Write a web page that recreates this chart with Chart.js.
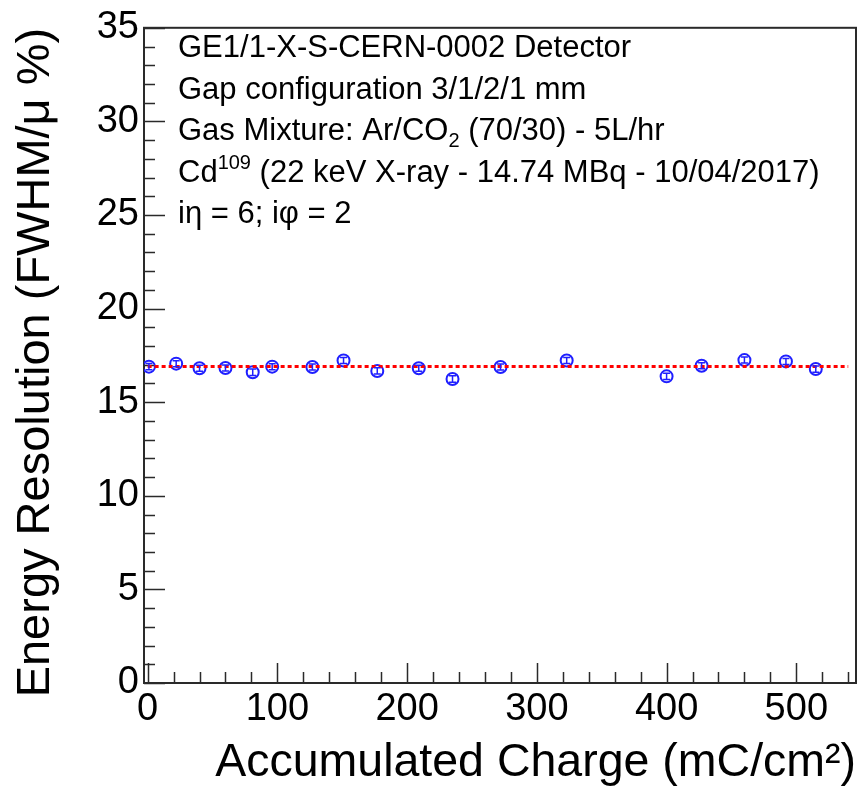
<!DOCTYPE html>
<html>
<head>
<meta charset="utf-8">
<script src="https://cdn.jsdelivr.net/npm/chart.js@4/dist/chart.umd.min.js"></script>
<style>
  html, body { margin: 0; padding: 0; background: #ffffff; }
  #wrap { width: 864px; height: 791px; }
</style>
</head>
<body>
<div id="wrap"><canvas id="c" width="864" height="791"></canvas></div>
<script>
// Accumulated charge (mC/cm^2) for each measurement
const charge = [1, 22, 40, 60, 81, 96, 127, 151, 177, 209, 235, 272, 323, 400, 427, 460, 492, 515];
// Energy resolution (FWHM/mu, %) and its uncertainty
const resolution = [16.90, 17.06, 16.81, 16.83, 16.60, 16.90, 16.88, 17.23, 16.67, 16.81, 16.24, 16.88, 17.23, 16.38, 16.95, 17.25, 17.18, 16.77];
const resolutionErr = [0.17, 0.16, 0.16, 0.16, 0.17, 0.16, 0.16, 0.16, 0.17, 0.16, 0.17, 0.16, 0.16, 0.17, 0.16, 0.16, 0.16, 0.17];
// Constant fit (pol0) over the charge range
const fitValue = 16.91;
const fitRange = [0, 540];
// Axis tick labels
const xTickValues = [0, 100, 200, 300, 400, 500];
const yTickValues = [0, 5, 10, 15, 20, 25, 30, 35];

// Info box lines; "sup"/"sub" segments are drawn raised/lowered
const infoLines = [
  [{ t: 'GE1/1-X-S-CERN-0002 Detector' }],
  [{ t: 'Gap configuration 3/1/2/1 mm' }],
  [{ t: 'Gas Mixture: Ar/CO' }, { t: '2', sub: true }, { t: ' (70/30) - 5L/hr' }],
  [{ t: 'Cd' }, { t: '109', sup: true }, { t: ' (22 keV X-ray - 14.74 MBq - 10/04/2017)' }],
  [{ t: 'i\u03b7 = 6; i\u03c6 = 2' }]
];

const FONT = '"Liberation Sans", Arial, Helvetica, sans-serif';
const BLUE = '#1f1fff';

// Frame with inward major/minor ticks on the left and bottom axes
const framePlugin = {
  id: 'frame',
  beforeDatasetsDraw(chart) {
    const { ctx, chartArea: a, scales: { x, y } } = chart;
    ctx.save();
    ctx.strokeStyle = '#2a2a2a';
    ctx.lineWidth = 1.5;
    ctx.beginPath();
    for (let v = 0; v <= 35; v++) {
      const py = Math.round(y.getPixelForValue(v)) + 0.5;
      const len = v % 5 === 0 ? 21 : 11;
      ctx.moveTo(a.left, py);
      ctx.lineTo(a.left + len, py);
    }
    for (let v = 0; v <= 540; v += 20) {
      const px = Math.round(x.getPixelForValue(v)) + 0.5;
      const len = v % 100 === 0 ? 20 : 11;
      ctx.moveTo(px, a.bottom);
      ctx.lineTo(px, a.bottom - len);
    }
    ctx.stroke();
    ctx.lineWidth = 2;
    ctx.strokeRect(a.left, a.top, a.right - a.left, a.bottom - a.top);
    ctx.restore();
  }
};

// Vertical error bars with small caps, drawn inside each marker
const errorBarPlugin = {
  id: 'errorBars',
  afterDatasetsDraw(chart) {
    const { ctx, scales: { x, y } } = chart;
    ctx.save();
    ctx.strokeStyle = BLUE;
    ctx.lineWidth = 1.5;
    ctx.beginPath();
    for (let i = 0; i < charge.length; i++) {
      const px = x.getPixelForValue(charge[i]);
      const yHi = y.getPixelForValue(resolution[i] + resolutionErr[i]);
      const yLo = y.getPixelForValue(resolution[i] - resolutionErr[i]);
      ctx.moveTo(px, yHi); ctx.lineTo(px, yLo);
      ctx.moveTo(px - 3.5, yHi); ctx.lineTo(px + 3.5, yHi);
      ctx.moveTo(px - 3.5, yLo); ctx.lineTo(px + 3.5, yLo);
    }
    ctx.stroke();
    ctx.restore();
  }
};

// Info text in the upper-left corner of the plot
const infoPlugin = {
  id: 'info',
  afterDraw(chart) {
    const { ctx } = chart;
    const size = 31, small = 20;
    const x0 = 178, y0 = 57, step = 41.5;
    ctx.save();
    ctx.fillStyle = '#000000';
    ctx.textBaseline = 'alphabetic';
    ctx.textAlign = 'left';
    infoLines.forEach((parts, li) => {
      let cx = x0;
      const by = y0 + li * step;
      parts.forEach(p => {
        let dy = 0;
        if (p.sup) { ctx.font = small + 'px ' + FONT; dy = -13; }
        else if (p.sub) { ctx.font = small + 'px ' + FONT; dy = 7; }
        else { ctx.font = size + 'px ' + FONT; }
        ctx.fillText(p.t, cx, by + dy);
        cx += ctx.measureText(p.t).width;
      });
    });
    ctx.restore();
  }
};

new Chart(document.getElementById('c'), {
  type: 'scatter',
  data: {
    datasets: [
      {
        label: 'fit',
        type: 'line',
        data: fitRange.map(v => ({ x: v, y: fitValue })),
        borderColor: '#ff0000',
        borderWidth: 3,
        borderDash: [4, 3],
        pointRadius: 0,
        fill: false,
        order: 0
      },
      {
        label: 'resolution',
        data: charge.map((c, i) => ({ x: c, y: resolution[i] })),
        pointStyle: 'circle',
        pointRadius: 6,
        pointBorderWidth: 2,
        pointBorderColor: BLUE,
        pointBackgroundColor: 'rgba(0,0,0,0)',
        showLine: false,
        order: 1
      }
    ]
  },
  options: {
    responsive: false,
    devicePixelRatio: 1,
    animation: false,
    layout: { padding: { top: 23, right: 6, left: 0, bottom: 0 } },
    plugins: { legend: { display: false }, tooltip: { enabled: false } },
    scales: {
      x: {
        type: 'linear',
        min: -2.8,
        max: 546,
        grid: { display: false, drawTicks: false },
        border: { display: false },
        afterBuildTicks: s => { s.ticks = xTickValues.map(v => ({ value: v })); },
        afterFit: s => { s.height = 108; },
        ticks: {
          color: '#000000',
          padding: 4,
          maxRotation: 0,
          autoSkip: false,
          font: { family: FONT, size: 38 }
        },
        title: {
          display: true,
          text: 'Accumulated Charge (mC/cm\u00b2)',
          align: 'end',
          color: '#000000',
          padding: { top: 0, bottom: 0 },
          font: { family: FONT, size: 46.5 }
        }
      },
      y: {
        type: 'linear',
        min: 0,
        max: 35,
        grid: { display: false, drawTicks: false },
        border: { display: false },
        afterBuildTicks: s => { s.ticks = yTickValues.map(v => ({ value: v })); },
        afterFit: s => { s.width = 144; },
        ticks: {
          color: '#000000',
          padding: 5,
          autoSkip: false,
          font: { family: FONT, size: 38 }
        },
        title: {
          display: true,
          text: 'Energy Resolution (FWHM/\u03bc %)',
          align: 'end',
          color: '#000000',
          padding: { top: 8, bottom: 0 },
          font: { family: FONT, size: 47 }
        }
      }
    }
  },
  plugins: [framePlugin, errorBarPlugin, infoPlugin]
});
</script>
</body>
</html>
